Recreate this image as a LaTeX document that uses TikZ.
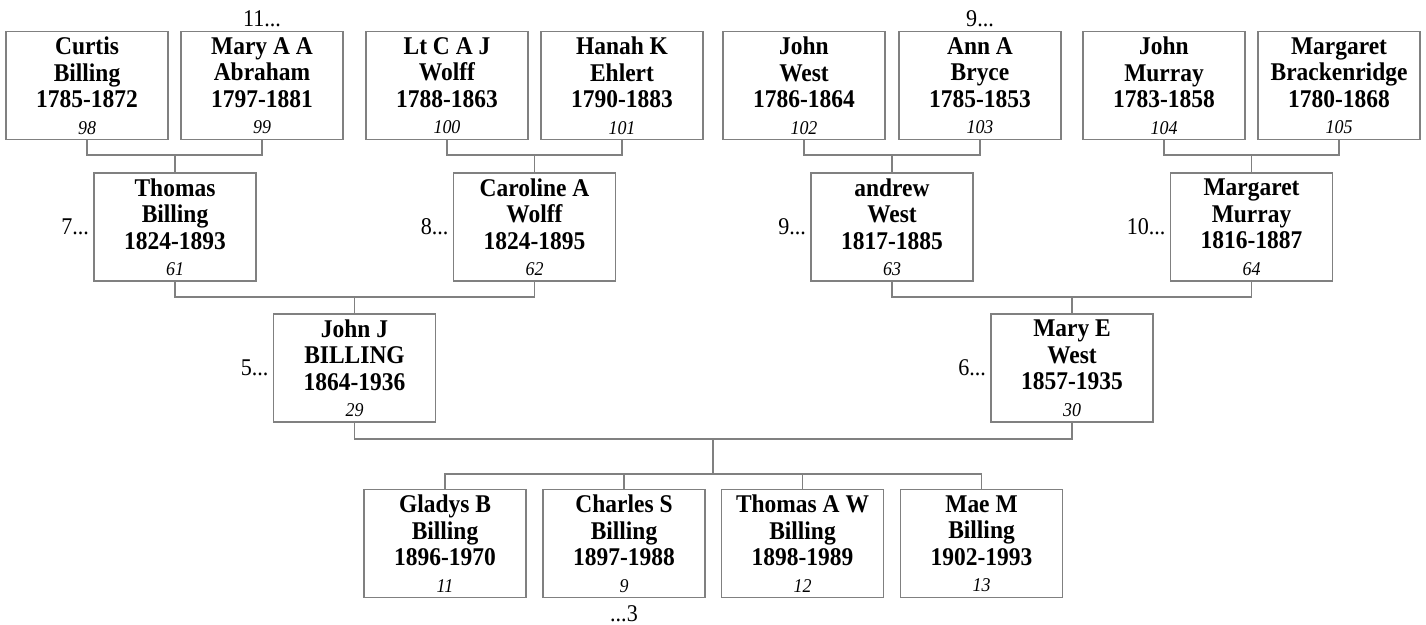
\documentclass[tikz,border=0pt]{standalone}
\usepackage{fontspec}
\setmainfont{Liberation Serif}[FakeStretch=0.92]
\usepackage{tikz}
\usetikzlibrary{calc}
\newcommand{\idno}[1]{{\normalfont\itshape\fontsize{19.5}{26}\selectfont #1}}

\begin{document}
\begin{tikzpicture}[x=1pt, y=-1pt]
\path [use as bounding box] (0,0) rectangle (1426,624);
\tikzstyle{person} = [draw=gray, line width=1.8pt, minimum width=162pt, minimum height=108pt, inner sep=2pt, align=center, font=\bfseries\fontsize{25.5}{26.5}\selectfont]
\tikzstyle{gen} = [inner sep=4pt, font=\fontsize{24}{26}\selectfont]
\tikzstyle{link} = [draw=gray, line width=1.8pt]
% great grandparents
\node[person] (p98) at (87,85.5) {Curtis\\Billing\\1785-1872\\\idno{98}};
\node[person] (p99) at (262,85.5) {Mary A A\\Abraham\\1797-1881\\\idno{99}};
\node[person] (p100) at (447,85.5) {Lt C A J\\Wolff\\1788-1863\\\idno{100}};
\node[person] (p101) at (622,85.5) {Hanah K\\Ehlert\\1790-1883\\\idno{101}};
\node[person] (p102) at (804,85.5) {John\\West\\1786-1864\\\idno{102}};
\node[person] (p103) at (980,85.5) {Ann A\\Bryce\\1785-1853\\\idno{103}};
\node[person] (p104) at (1164,85.5) {John\\Murray\\1783-1858\\\idno{104}};
\node[person] (p105) at (1339,85.5) {Margaret\\Brackenridge\\1780-1868\\\idno{105}};
% grandparents
\node[person] (p61) at (175,227) {Thomas\\Billing\\1824-1893\\\idno{61}};
\node[person] (p62) at (534.5,227) {Caroline A\\Wolff\\1824-1895\\\idno{62}};
\node[person] (p63) at (892,227) {andrew\\West\\1817-1885\\\idno{63}};
\node[person] (p64) at (1251.5,227) {Margaret\\Murray\\1816-1887\\\idno{64}};
% parents
\node[person] (p29) at (354.5,368) {John J\\BILLING\\1864-1936\\\idno{29}};
\node[person] (p30) at (1072,368) {Mary E\\West\\1857-1935\\\idno{30}};
% children
\node[person] (p11) at (445,543.5) {Gladys B\\Billing\\1896-1970\\\idno{11}};
\node[person] (p9) at (624,543.5) {Charles S\\Billing\\1897-1988\\\idno{9}};
\node[person] (p12) at (802.5,543.5) {Thomas A W\\Billing\\1898-1989\\\idno{12}};
\node[person] (p13) at (981.5,543.5) {Mae M\\Billing\\1902-1993\\\idno{13}};
% more generations
\node[gen, anchor=south] (g99) at (p99.north) {11...};
\node[gen, anchor=south] (g103) at (p103.north) {9...};
\node[gen, anchor=east] (g61) at (p61.west) {7...};
\node[gen, anchor=east] (g62) at (p62.west) {8...};
\node[gen, anchor=east] (g63) at (p63.west) {9...};
\node[gen, anchor=east] (g64) at (p64.west) {10...};
\node[gen, anchor=east] (g29) at (p29.west) {5...};
\node[gen, anchor=east] (g30) at (p30.west) {6...};
\node[gen, anchor=north, inner sep=7pt] (g9) at (p9.south) {...3};
% junctions
\coordinate (j61) at (175,155);
\coordinate (j62) at (534.5,155);
\coordinate (j63) at (892,155);
\coordinate (j64) at (1251.5,155);
\coordinate (j29) at (354.5,297);
\coordinate (j30) at (1072,297);
\coordinate (jc) at (713,439);
\coordinate (jk) at (713,474);
	\draw[link] (p98.south) |- (j61) -| (p99.south);
	\draw[link] (j61) -- (p61.north);
	\draw[link] (p100.south) |- (j62) -| (p101.south);
	\draw[link] (j62) -- (p62.north);
	\draw[link] (p102.south) |- (j63) -| (p103.south);
	\draw[link] (j63) -- (p63.north);
	\draw[link] (p104.south) |- (j64) -| (p105.south);
	\draw[link] (j64) -- (p64.north);
	\draw[link] (p61.south) |- (j29) -| (p62.south);
	\draw[link] (j29) -- (p29.north);
	\draw[link] (p63.south) |- (j30) -| (p64.south);
	\draw[link] (j30) -- (p30.north);
	\draw[link] (p29.south) |- (jc) -| (p30.south);
	\draw[link] (jc) -- (jk);
	\draw[link] (p11.north) |- (jk) -| (p13.north);
	\draw[link] (p9.north) |- (jk);
	\draw[link] (p12.north) |- (jk);
\end{tikzpicture}
\end{document}
